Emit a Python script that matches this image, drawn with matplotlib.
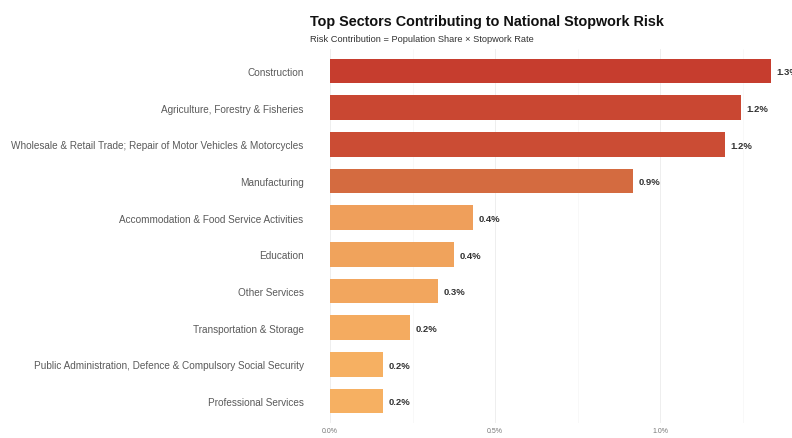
import matplotlib
matplotlib.use("Agg")
import matplotlib.pyplot as plt
from matplotlib.colors import LinearSegmentedColormap, Normalize

plt.rcParams['font.family'] = ['Liberation Sans', 'DejaVu Sans']

# sector risk contribution (%), largest first
sectors = [
    "Construction",
    "Agriculture, Forestry & Fisheries",
    "Wholesale & Retail Trade; Repair of Motor Vehicles & Motorcycles",
    "Manufacturing",
    "Accommodation & Food Service Activities",
    "Education",
    "Other Services",
    "Transportation & Storage",
    "Public Administration, Defence & Compulsory Social Security",
    "Professional Services",
]
risk = [1.336, 1.245, 1.197, 0.918, 0.433, 0.376, 0.327, 0.242, 0.160, 0.160]
xticks = [0.0, 0.5, 1.0]
xtick_labels = ["0.0%", "0.5%", "1.0%"]

cmap = LinearSegmentedColormap.from_list("risk", ["#F6B062", "#EC9858", "#D3683F", "#C63D2E"])
norm = Normalize(vmin=min(risk), vmax=max(risk))

fig = plt.figure(figsize=(7.92, 4.39), dpi=100, facecolor='white')
ax = fig.add_axes([330 / 792, 15 / 439, 462 / 792, 374 / 439])

ypos = list(range(len(sectors)))
bars = ax.barh(ypos, risk, height=0.68, color=[cmap(norm(v)) for v in risk], zorder=2)

for rect, v in zip(bars, risk):
    ax.annotate(f"{v:.1f}%", (rect.get_width(), rect.get_y() + rect.get_height() / 2),
                xytext=(4, -0.5), textcoords="offset points", va='center', ha='left',
                fontsize=6.8, color='#333333', fontweight='bold', annotation_clip=False)

ax.set_ylim(len(sectors) - 0.4, -0.6)
ax.set_xlim(0, 1.4)
ax.set_yticks(ypos)
ax.set_yticklabels(sectors, fontsize=7.2, color='#5a5a5a')
ax.set_xticks(xticks)
ax.set_xticklabels(xtick_labels, fontsize=5, color='#777777')
ax.set_xticks([0.25, 0.75, 1.25], minor=True)
ax.tick_params(axis='both', which='both', length=0)
ax.tick_params(axis='x', pad=3)
ax.tick_params(axis='y', pad=19)
ax.grid(axis='x', which='major', color='#ebebeb', linewidth=0.6, zorder=0)
ax.grid(axis='x', which='minor', color='#f4f4f4', linewidth=0.4, zorder=0)
for s in ax.spines.values():
    s.set_visible(False)

# axis title sits at the very bottom edge
ax.set_xlabel("Risk Contribution (%)", fontsize=9.5, color='#333333')
ax.xaxis.set_label_coords(219 / 462, -14 / 374)
ax.xaxis.label.set_va('top')

fig.text(310 / 792, 1 - 22 / 439, "Top Sectors Contributing to National Stopwork Risk",
         fontsize=10.4, fontweight='bold', color='#111111', va='center', ha='left')
fig.text(310 / 792, 1 - 39 / 439, "Risk Contribution = Population Share \u00d7 Stopwork Rate",
         fontsize=6.7, color='#333333', va='center', ha='left')

plt.savefig("out.png", dpi=100, facecolor='white')
